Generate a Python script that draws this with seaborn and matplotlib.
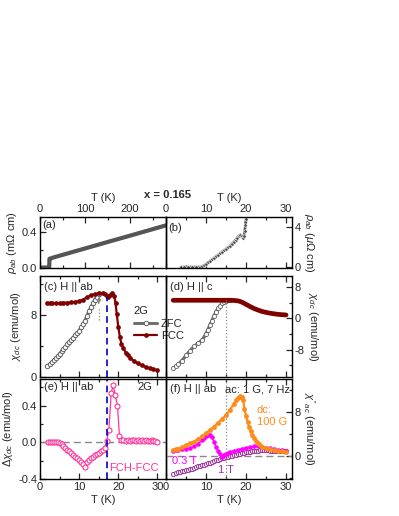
import numpy as np
import pandas as pd
import matplotlib
matplotlib.use("Agg")
import matplotlib.pyplot as plt
from matplotlib.ticker import MultipleLocator, FormatStrFormatter
import seaborn as sns

# ---------------- data ----------------
# (a) resistivity, wide T range (mOhm cm)
T_a = [2, 5, 10, 15, 19, 20.5, 21, 21.5, 30, 50, 80, 100, 130, 160, 190, 220, 250, 280]
rho_a = [0, 0, 0, 0, 0, 0.0, 0.1, 0.1, 0.115, 0.144, 0.188, 0.217, 0.261, 0.305, 0.348, 0.392, 0.436, 0.48]

# (b) resistivity, low T (uOhm cm)
T_b = [3.7, 4.5, 5.5, 6.5, 7.5, 8.5, 9.0, 9.5, 10.0, 10.5, 11.0, 11.5, 12.0, 12.5, 13.0, 13.5, 14.0,
       14.5, 15.0, 15.5, 16.0, 16.5, 17.0, 17.4, 17.8, 18.2, 18.6, 18.9, 19.2, 19.5, 19.7, 19.85, 20.0, 20.1, 20.2]
rho_b = [0, 0, 0, 0, 0, 0.0, 0.05, 0.15, 0.3, 0.45, 0.6, 0.75, 0.9, 1.05, 1.2, 1.35, 1.5,
         1.65, 1.8, 1.95, 2.1, 2.3, 2.5, 2.7, 2.9, 3.1, 3.2, 3.05, 2.9, 3.1, 3.6, 4.2, 4.8, 5.3, 6.0]

# (c) chi_dc, H || ab
T_c_zfc = [1.8, 2.5, 3, 3.5, 4, 4.5, 5, 5.5, 6, 6.5, 7, 7.5, 8, 8.5, 9, 9.5, 10, 10.5, 11, 11.5,
           12, 12.5, 13, 13.5, 14, 14.5, 15]
chi_c_zfc = [1.4, 1.65, 1.9, 2.15, 2.4, 2.7, 3.0, 3.3, 3.6, 3.9, 4.2, 4.5, 4.8, 5.1, 5.4, 5.7, 6.0, 6.4, 6.8, 7.3,
             7.9, 8.5, 9.0, 9.5, 10.0, 10.4, 10.7]
T_c_fcc = [1.8, 2.5, 3, 4, 5, 6, 7, 8, 9, 10, 11, 12, 13, 14, 15, 16, 16.5, 17, 17.5, 18, 18.5, 19,
           19.3, 19.6, 20, 20.4, 20.8, 21.3, 22, 22.5, 23, 24, 25, 26, 27, 28, 29, 30]
chi_c_fcc = [9.5, 9.5, 9.5, 9.5, 9.55, 9.6, 9.6, 9.65, 9.7, 9.8, 10.0, 10.3, 10.55, 10.7, 10.8, 10.85, 10.7, 10.5, 10.4, 10.6, 10.8, 10.5,
             9.5, 8.2, 6.5, 5.2, 4.3, 3.7, 3.1, 2.8, 2.5, 2.05, 1.75, 1.5, 1.3, 1.15, 1.0, 0.88]

# (d) chi_dc, H || c
T_d_zfc = [1.8, 2.5, 3, 4, 5, 6, 7, 8, 9, 10, 10.5, 11, 11.5, 12, 12.5, 13, 13.5, 14, 14.5, 15, 15.5, 16]
chi_d_zfc = [-12.8, -12.2, -11.8, -10.8, -9.5, -8.3, -7.2, -6.4, -5.6, -4.0, -2.9, -1.7, -0.6, 0.6, 1.6, 2.5, 3.2, 3.8, 4.2, 4.5, 4.6, 4.6]
T_d_fcc = [1.8, 3, 4, 5, 6, 7, 8, 9, 10, 11, 12, 13, 14, 15, 16, 17, 17.5, 18, 18.5, 19, 19.5, 20, 20.5, 21,
           21.5, 22, 23, 24, 25, 26, 27, 28, 29, 30]
chi_d_fcc = [4.6, 4.6, 4.6, 4.6, 4.6, 4.6, 4.6, 4.6, 4.6, 4.6, 4.6, 4.6, 4.6, 4.6, 4.6, 4.55, 4.5, 4.45, 4.3, 4.1, 3.85, 3.55, 3.3, 3.0,
             2.75, 2.5, 2.1, 1.75, 1.5, 1.3, 1.15, 1.0, 0.92, 0.85]

# (e) FCH - FCC
T_e = [2.0, 2.5, 3.0, 3.5, 4.0, 4.5, 5.0, 5.5, 6.0, 6.5, 7.0, 7.5, 8.0, 8.5, 9.0, 9.5, 10.0, 10.5, 11.0, 11.5,
       12.0, 12.5, 13.0, 13.5, 14.0, 14.5, 15.0, 15.5, 16.0, 16.5, 17.0, 17.6, 18.2, 18.7, 19.2, 19.8, 20.3,
       20.8, 21.3, 22.0, 22.5, 23.0, 23.5, 24.0, 24.5, 25.0, 25.5, 26.0, 26.5, 27.0, 27.5, 28.0, 28.5, 29.0, 29.5, 30.0]
dchi_e = [0.0, 0.0, 0.0, 0.0, 0.0, 0.0, -0.01, -0.02, -0.04, -0.06, -0.08, -0.10, -0.12, -0.14, -0.16, -0.17, -0.19, -0.21, -0.24, -0.27,
          -0.21, -0.19, -0.17, -0.16, -0.14, -0.13, -0.12, -0.10, -0.08, -0.06, 0.01, 0.13, 0.54, 0.62, 0.52, 0.40, 0.07,
          0.03, 0.02, 0.01, 0.02, 0.01, 0.02, 0.02, 0.01, 0.02, 0.01, 0.02, 0.01, 0.02, 0.01, 0.01, 0.02, 0.01, 0.01, 0.0]

# (f) chi''_ac
T_f_dc = [1.8, 2.5, 3, 4, 5, 6, 7, 8, 9, 10, 11, 12, 13, 14, 15, 16, 17, 17.5, 18, 18.5, 19, 19.3, 19.6, 20,
          20.4, 20.8, 21.2, 21.6, 22, 22.5, 23, 23.5, 24, 25, 26, 27, 28, 29, 30]
chi_f_dc = [1.1, 1.2, 1.35, 1.65, 2.0, 2.3, 2.65, 3.1, 3.6, 4.2, 4.8, 5.4, 6.1, 6.8, 7.5, 8.5, 9.6, 10.3, 10.7, 10.9, 10.8, 10.2, 8.7, 7.3,
            6.2, 5.3, 4.5, 3.8, 3.3, 2.8, 2.3, 2.0, 1.7, 1.4, 1.2, 1.05, 0.95, 0.85, 0.8]
T_f_03 = [1.8, 2.5, 3, 4, 5, 6, 7, 8, 9, 9.5, 10, 10.5, 11, 11.5, 12, 12.5, 13, 13.5, 14, 14.5, 15, 15.5, 16, 17,
          18, 19, 20, 21, 22, 23, 24, 25, 26, 27, 28, 29, 30]
chi_f_03 = [1.0, 1.05, 1.1, 1.2, 1.35, 1.5, 1.75, 2.2, 2.9, 3.3, 3.6, 3.8, 3.85, 3.4, 2.6, 1.6, 0.9, 0.3, -0.1, 0.2, 0.45, 0.6, 0.75, 0.95,
            1.15, 1.35, 1.5, 1.65, 1.75, 1.8, 1.7, 1.55, 1.4, 1.25, 1.15, 1.05, 1.0]
T_f_1 = [1.8, 2.5, 3, 3.5, 4, 4.5, 5, 5.5, 6, 6.5, 7, 7.5, 8, 8.5, 9, 9.5, 10, 10.5, 11, 11.5, 12, 12.5, 13, 13.5, 14,
         14.5, 15, 15.5, 16, 16.5, 17, 17.5, 18, 18.5, 19, 19.5, 20, 20.5, 21, 21.5, 22, 22.5, 23, 23.5, 24, 24.5, 25,
         25.5, 26, 26.5, 27, 27.5, 28, 28.5, 29, 29.5, 30]
chi_f_1 = [-3.2, -3.1, -3.0, -2.9, -2.8, -2.7, -2.6, -2.5, -2.4, -2.3, -2.2, -2.05, -1.9, -1.8, -1.7, -1.55, -1.4, -1.3, -1.2, -1.05, -0.9,
           -0.8, -0.7, -0.55, -0.4, -0.3, -0.2, -0.1, 0.0, 0.1, 0.2, 0.28, 0.35, 0.42, 0.5, 0.58, 0.65, 0.72, 0.8, 0.85, 0.9,
           0.95, 1.0, 1.02, 1.05, 1.05, 1.05, 1.03, 1.0, 1.0, 1.0, 0.98, 0.95, 0.92, 0.9, 0.88, 0.85]

T_BLUE = 17.0   # blue dashed marker line
T_GRAY = 15.0   # gray dotted marker line

# ---------------- style ----------------
sns.set_style("ticks")
plt.rcParams["font.family"] = ["Liberation Sans", "DejaVu Sans"]
plt.rcParams["mathtext.fontset"] = "custom"
plt.rcParams["mathtext.rm"] = "Liberation Sans"
plt.rcParams["mathtext.it"] = "Liberation Sans:italic"
plt.rcParams["axes.unicode_minus"] = False
FS = 8

fig = plt.figure(figsize=(3.99, 5.16), dpi=100)
W = 399.0
H = 516.0


def box(x0, x1, ytop, ybot):
    return [x0 / W, 1 - ybot / H, (x1 - x0) / W, (ybot - ytop) / H]


ax_a = fig.add_axes(box(40, 166, 217, 268))
ax_b = fig.add_axes(box(166, 292, 217, 268))
ax_c = fig.add_axes(box(40, 166, 276, 377))
ax_d = fig.add_axes(box(166, 292, 276, 377))
ax_e = fig.add_axes(box(40, 166, 379, 479))
ax_f = fig.add_axes(box(166, 292, 379, 479))

for ax in [ax_a, ax_b, ax_c, ax_d, ax_e, ax_f]:
    ax.set_facecolor("none")
    for s in ax.spines.values():
        s.set_linewidth(1.0)
        s.set_color("black")
    ax.tick_params(which="both", direction="in", labelsize=FS, pad=2, width=0.9)
    ax.tick_params(which="major", length=4)
    ax.tick_params(which="minor", length=2.5)

LEFT_XLIM = (0, 32.2)
RIGHT_XLIM = (0, 31.5)

# (a)
sns.lineplot(x=T_a, y=rho_a, ax=ax_a, color="#555555", lw=3, estimator=None, sort=False)
ax_a.set_xlim(0, 280)
ax_a.set_ylim(-0.005, 0.575)
ax_a.xaxis.set_major_locator(MultipleLocator(100))
ax_a.xaxis.set_minor_locator(MultipleLocator(50))
ax_a.yaxis.set_major_locator(MultipleLocator(0.4))
ax_a.yaxis.set_minor_locator(MultipleLocator(0.2))
ax_a.yaxis.set_major_formatter(FormatStrFormatter("%.1f"))
ax_a.tick_params(which="both", top=True, bottom=True, labeltop=True, labelbottom=False, left=True, right=False)
ax_a.xaxis.set_label_position("top")
ax_a.set_xlabel("T (K)", fontsize=FS, labelpad=2)
ax_a.set_ylabel(r"$\rho_{ab}$ (m$\Omega$ cm)", fontsize=FS, labelpad=2)
ax_a.text(0.02, 0.84, "(a)", transform=ax_a.transAxes, fontsize=FS, va="center", ha="left")

# (b)
sns.lineplot(x=T_b, y=rho_b, ax=ax_b, color="#444444", lw=1.8, marker="o", markersize=2.5,
             markeredgewidth=0.5, estimator=None, sort=False)
ax_b.set_xlim(*RIGHT_XLIM)
ax_b.set_ylim(-0.1, 4.95)
ax_b.xaxis.set_major_locator(MultipleLocator(10))
ax_b.xaxis.set_minor_locator(MultipleLocator(5))
ax_b.yaxis.set_major_locator(MultipleLocator(4))
ax_b.yaxis.set_minor_locator(MultipleLocator(2))
ax_b.tick_params(which="both", top=True, bottom=True, labeltop=True, labelbottom=False,
                 left=False, right=True, labelleft=False, labelright=True)
ax_b.xaxis.set_label_position("top")
ax_b.set_xlabel("T (K)", fontsize=FS, labelpad=2)
ax_b.yaxis.set_label_position("right")
ax_b.set_ylabel(r"$\rho_{ab}$ ($\mu\Omega$ cm)", fontsize=FS, rotation=-90, labelpad=11)
ax_b.text(0.02, 0.78, "(b)", transform=ax_b.transAxes, fontsize=FS, va="center", ha="left")

# (c)
sns.lineplot(x=T_c_zfc, y=chi_c_zfc, ax=ax_c, color="#707070", lw=2.2, marker="o", markersize=3.2,
             markerfacecolor="white", markeredgecolor="#606060", markeredgewidth=0.7,
             estimator=None, sort=False, label="ZFC")
sns.lineplot(x=T_c_fcc, y=chi_c_fcc, ax=ax_c, color="#800000", lw=1.6, marker="o", markersize=3.4,
             markeredgewidth=0, estimator=None, sort=False, label="FCC")
ax_c.plot([T_BLUE, T_BLUE], [0, 10.4], color="#0000cc", lw=1.2, ls=(0, (4, 2.5)))
ax_c.annotate("", xy=(T_GRAY, 9.0), xytext=(T_GRAY, 10.6),
              arrowprops=dict(arrowstyle="-|>", color="#888888", lw=0.8, mutation_scale=7))
ax_c.plot([T_GRAY, T_GRAY], [7.4, 9.0], color="#888888", lw=0.9, ls=":")
ax_c.set_xlim(*LEFT_XLIM)
ax_c.set_ylim(0, 13.05)
ax_c.xaxis.set_major_locator(MultipleLocator(10))
ax_c.xaxis.set_minor_locator(MultipleLocator(5))
ax_c.yaxis.set_major_locator(MultipleLocator(8))
ax_c.yaxis.set_minor_locator(MultipleLocator(4))
ax_c.tick_params(which="both", top=True, bottom=True, labelbottom=False, left=True, right=False)
ax_c.set_xlabel("")
ax_c.set_ylabel(r"$\chi_{dc}$ (emu/mol)", fontsize=FS, labelpad=6)
ax_c.text(0.03, 0.89, "(c) H || ab", transform=ax_c.transAxes, fontsize=FS, va="center", ha="left")
leg = ax_c.legend(title="2G", loc="upper left", bbox_to_anchor=(0.745, 0.70), frameon=False,
                  fontsize=FS, title_fontsize=FS, borderpad=0, borderaxespad=0, handlelength=2.1,
                  handletextpad=0.35, labelspacing=0.2, alignment="left")

# (d)
sns.lineplot(x=T_d_zfc, y=chi_d_zfc, ax=ax_d, color="#707070", lw=2.4, marker="o", markersize=3.0,
             markerfacecolor="white", markeredgecolor="#606060", markeredgewidth=0.6,
             estimator=None, sort=False)
sns.lineplot(x=T_d_fcc, y=chi_d_fcc, ax=ax_d, color="#800000", lw=3.4, estimator=None, sort=False)
ax_d.plot([T_GRAY, T_GRAY], [-15, 4.6], color="#888888", lw=0.9, ls=":")
ax_d.set_xlim(*RIGHT_XLIM)
ax_d.set_ylim(-15, 10.8)
ax_d.xaxis.set_major_locator(MultipleLocator(10))
ax_d.xaxis.set_minor_locator(MultipleLocator(5))
ax_d.yaxis.set_major_locator(MultipleLocator(8))
ax_d.yaxis.set_minor_locator(MultipleLocator(4))
ax_d.tick_params(which="both", top=True, bottom=True, labelbottom=False,
                 left=False, right=True, labelleft=False, labelright=True)
ax_d.yaxis.set_label_position("right")
ax_d.set_ylabel(r"$\chi_{dc}$ (emu/mol)", fontsize=FS, rotation=-90, labelpad=11)
ax_d.text(0.03, 0.89, "(d) H || c", transform=ax_d.transAxes, fontsize=FS, va="center", ha="left")

# (e)
PINK = "#ff3399"
ax_e.axhline(0, color="#888888", lw=1.0, ls=(0, (5, 3)))
sns.lineplot(x=T_e, y=dchi_e, ax=ax_e, color=PINK, lw=0.9, marker="o", markersize=3.6,
             markerfacecolor="white", markeredgecolor=PINK, markeredgewidth=0.8,
             estimator=None, sort=False)
ax_e.axvline(T_BLUE, color="#0000cc", lw=1.2, ls=(0, (4, 2.5)))
ax_e.set_xlim(*LEFT_XLIM)
ax_e.set_ylim(-0.4, 0.69)
ax_e.xaxis.set_major_locator(MultipleLocator(10))
ax_e.xaxis.set_minor_locator(MultipleLocator(5))
ax_e.yaxis.set_major_locator(MultipleLocator(0.4))
ax_e.yaxis.set_minor_locator(MultipleLocator(0.2))
ax_e.yaxis.set_major_formatter(FormatStrFormatter("%.1f"))
ax_e.tick_params(which="both", top=True, bottom=True, labelbottom=True, left=True, right=False)
ax_e.set_xlabel("T (K)", fontsize=FS, labelpad=2)
ax_e.set_ylabel(r"$\Delta\chi_{dc}$ (emu/mol)", fontsize=FS, labelpad=2)
ax_e.text(0.03, 0.92, "(e) H || ab", transform=ax_e.transAxes, fontsize=FS, va="center", ha="left")
ax_e.text(0.77, 0.92, "2G", transform=ax_e.transAxes, fontsize=FS, va="center", ha="left")
ax_e.text(0.94, 0.11, "FCH-FCC", transform=ax_e.transAxes, fontsize=FS, va="center", ha="right", color=PINK)

# (f)
ORANGE = "#ff8c1a"
MAG = "#ff00ff"
PURP = "#993399"
ax_f.axhline(0, color="#888888", lw=1.0, ls=(0, (5, 3)))
ax_f.axvline(T_GRAY, color="#888888", lw=0.9, ls=":")
sns.lineplot(x=T_f_1, y=chi_f_1, ax=ax_f, color=PURP, lw=0.8, marker="o", markersize=3.0,
             markerfacecolor="white", markeredgecolor=PURP, markeredgewidth=0.7,
             estimator=None, sort=False)
sns.lineplot(x=T_f_03, y=chi_f_03, ax=ax_f, color=MAG, lw=1.0, marker="o", markersize=3.3,
             markeredgewidth=0, estimator=None, sort=False)
sns.lineplot(x=T_f_dc, y=chi_f_dc, ax=ax_f, color=ORANGE, lw=1.6, marker="o", markersize=3.5,
             markeredgewidth=0, estimator=None, sort=False)
ax_f.set_xlim(*RIGHT_XLIM)
ax_f.set_ylim(-4.2, 14.1)
ax_f.xaxis.set_major_locator(MultipleLocator(10))
ax_f.xaxis.set_minor_locator(MultipleLocator(5))
ax_f.yaxis.set_major_locator(MultipleLocator(8))
ax_f.yaxis.set_minor_locator(MultipleLocator(4))
ax_f.tick_params(which="both", top=True, bottom=True, labelbottom=True,
                 left=False, right=True, labelleft=False, labelright=True)
ax_f.set_xlabel("T (K)", fontsize=FS, labelpad=2)
ax_f.yaxis.set_label_position("right")
ax_f.set_ylabel(r"$\chi''_{ac}$ (emu/mol)", fontsize=FS, rotation=-90, labelpad=11)
ax_f.text(0.03, 0.90, "(f) H || ab", transform=ax_f.transAxes, fontsize=FS, va="center", ha="left")
ax_f.text(0.47, 0.90, "ac: 1 G, 7 Hz", transform=ax_f.transAxes, fontsize=FS, va="center", ha="left")
ax_f.text(0.72, 0.69, "dc:", transform=ax_f.transAxes, fontsize=FS, va="center", ha="left", color=ORANGE)
ax_f.text(0.72, 0.57, "100 G", transform=ax_f.transAxes, fontsize=FS, va="center", ha="left", color=ORANGE)
ax_f.text(0.05, 0.18, "0.3 T", transform=ax_f.transAxes, fontsize=FS, va="center", ha="left", color=MAG)
ax_f.text(0.41, 0.09, "1 T", transform=ax_f.transAxes, fontsize=FS, va="center", ha="left", color=PURP)

fig.text(168 / W, 1 - 195 / H, "x = 0.165", fontsize=FS, fontweight="bold", ha="center", va="center")

fig.savefig("out.png", dpi=100)
